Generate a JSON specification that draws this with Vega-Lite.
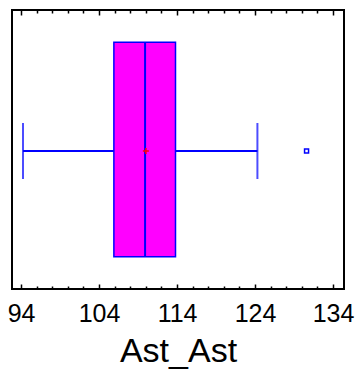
{
  "$schema": "https://vega.github.io/schema/vega-lite/v6.json",
  "width": 332,
  "height": 279,
  "autosize": {"type": "none"},
  "padding": {"left": 12, "top": 10, "right": 14, "bottom": 82},
  "background": "white",
  "config": {"view": {"stroke": "black", "strokeWidth": 2}},
  "data": {"values": [{"var": "Ast_Ast", "lower": 94.25, "q1": 105.9, "median": 109.9, "q3": 113.8, "upper": 124.3, "mean": 110.0}]},
  "resolve": {"axis": {"x": "independent"}},
  "layer": [
    {
      "mark": {"type": "rule", "color": "#0000FF", "strokeWidth": 2, "yOffset": 1.5},
      "encoding": {
        "x": {
          "field": "lower", "type": "quantitative",
          "scale": {"domain": [92.84, 135.4], "nice": false, "zero": false},
          "axis": {
            "orient": "bottom", "domain": false, "grid": false,
            "values": [94, 96, 98, 100, 102, 104, 106, 108, 110, 112, 114, 116, 118, 120, 122, 124, 126, 128, 130, 132, 134],
            "tickColor": "black", "tickWidth": 1.5,
            "tickSize": {"condition": {"test": "(datum.value - 94) % 10 === 0", "value": -5}, "value": -3},
            "labelExpr": "(datum.value - 94) % 10 === 0 ? datum.label : ''",
            "labelFont": "Liberation Sans, Arial, sans-serif",
            "labelFontSize": 25, "labelColor": "black", "labelPadding": 17,
            "labelFlush": false, "labelOverlap": false,
            "title": "Ast_Ast",
            "titleFont": "Liberation Sans, Arial, sans-serif",
            "titleFontSize": 34, "titleFontWeight": "normal", "titleColor": "black", "titlePadding": 6
          }
        },
        "x2": {"field": "upper"},
        "y": {"field": "var", "type": "nominal", "axis": null, "scale": {"paddingOuter": 0.15, "paddingInner": 0}}
      }
    },
    {
      "mark": {"type": "tick", "orient": "vertical", "color": "#0000FF", "size": 56, "thickness": 2, "yOffset": 1.5},
      "encoding": {
        "x": {
          "field": "lower", "type": "quantitative",
          "axis": {
            "orient": "top", "domain": false, "grid": false, "labels": false, "title": null,
            "values": [94, 96, 98, 100, 102, 104, 106, 108, 110, 112, 114, 116, 118, 120, 122, 124, 126, 128, 130, 132, 134],
            "tickColor": "black", "tickWidth": 1.5,
            "tickSize": {"condition": {"test": "(datum.value - 94) % 10 === 0", "value": -5}, "value": -3}
          }
        },
        "y": {"field": "var", "type": "nominal"}
      }
    },
    {
      "mark": {"type": "tick", "orient": "vertical", "color": "#0000FF", "size": 56, "thickness": 2, "yOffset": 1.5},
      "encoding": {
        "x": {"field": "upper", "type": "quantitative", "axis": null},
        "y": {"field": "var", "type": "nominal"}
      }
    },
    {
      "mark": {"type": "rect", "fill": "#FF00FF", "stroke": "#0000FF", "strokeWidth": 1.5},
      "encoding": {
        "x": {"field": "q1", "type": "quantitative", "axis": null},
        "x2": {"field": "q3"},
        "y": {"field": "var", "type": "nominal"}
      }
    },
    {
      "mark": {"type": "rect", "fill": null, "stroke": "#0000FF", "strokeWidth": 2},
      "encoding": {
        "x": {"field": "median", "type": "quantitative", "axis": null},
        "x2": {"field": "median"},
        "y": {"field": "var", "type": "nominal"}
      }
    },
    {
      "mark": {"type": "point", "shape": "M-1,0H1M0,-1V1", "filled": false, "stroke": "#FF0000", "strokeWidth": 1.5, "size": 36, "opacity": 1, "yOffset": 1.5},
      "encoding": {
        "x": {"field": "mean", "type": "quantitative", "axis": null},
        "y": {"field": "var", "type": "nominal"}
      }
    },
    {
      "data": {"values": [{"var": "Ast_Ast", "outlier": 130.6}]},
      "mark": {"type": "point", "shape": "square", "filled": false, "stroke": "#0000FF", "strokeWidth": 1.5, "size": 16, "opacity": 1, "yOffset": 1.5},
      "encoding": {
        "x": {"field": "outlier", "type": "quantitative", "axis": null},
        "y": {"field": "var", "type": "nominal"}
      }
    }
  ]
}
